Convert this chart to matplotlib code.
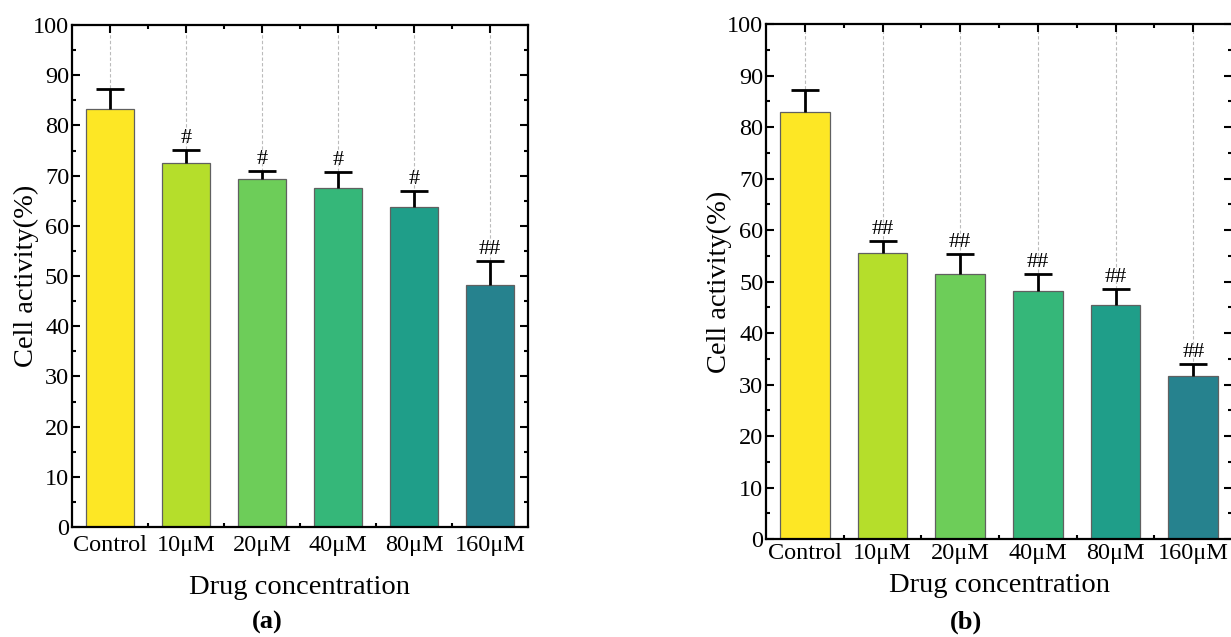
import numpy as np
import matplotlib.pyplot as plt
from matplotlib.ticker import MultipleLocator, FixedLocator

plt.rcParams['font.family'] = ['Liberation Serif', 'DejaVu Serif']

# datos
grupos = ["Control", "10μM", "20μM", "40μM", "80μM", "160μM"]
colores = ["#FDE725", "#B5DE2B", "#6DCD59", "#35B779", "#1F9E89", "#26828E"]

media_a = [83.2, 72.6, 69.4, 67.5, 63.8, 48.3]
error_a = [4.1, 2.5, 1.5, 3.3, 3.2, 4.6]
marca_a = ["", "#", "#", "#", "#", "##"]

media_b = [82.9, 55.5, 51.5, 48.1, 45.4, 31.7]
error_b = [4.2, 2.3, 3.8, 3.3, 3.2, 2.3]
marca_b = ["", "##", "##", "##", "##", "##"]

fig = plt.figure(figsize=(12.31, 6.37), dpi=100)
ax_a = fig.add_axes([0.0585, 0.1727, 0.3704, 0.788])
ax_b = fig.add_axes([0.6223, 0.1538, 0.3786, 0.8085])


def panel(ax, medias, errores, marcas, pad_x, ylab_x):
    x = np.arange(len(grupos))
    ax.set_axisbelow(True)
    ax.bar(x, medias, width=0.64, color=colores, edgecolor="#606060",
           linewidth=0.9, zorder=2)
    eb = ax.errorbar(x, medias, yerr=[np.zeros(len(x)), errores], fmt="none",
                     ecolor="black", elinewidth=2, capsize=10, capthick=2,
                     zorder=3)
    # solo la barra de arriba
    eb[1][0].set_visible(False)
    for xi, m, e, t in zip(x, medias, errores, marcas):
        if t:
            ax.text(xi, m + e + 0.4, t, ha="center", va="bottom", fontsize=16)
    ax.set_xlim(-0.5, len(grupos) - 0.5)
    ax.set_ylim(0, 100)
    ax.xaxis.set_major_locator(FixedLocator(x))
    ax.xaxis.set_minor_locator(FixedLocator(x[:-1] + 0.5))
    ax.set_xticklabels(grupos)
    ax.yaxis.set_major_locator(MultipleLocator(10))
    ax.yaxis.set_minor_locator(MultipleLocator(5))
    ax.tick_params(which="both", direction="in", top=True, right=True,
                   labelsize=17.5, width=1.5)
    ax.tick_params(which="major", length=6)
    ax.tick_params(which="minor", length=3)
    ax.tick_params(axis="x", which="major", pad=pad_x)
    ax.tick_params(axis="y", which="major", pad=2)
    ax.grid(axis="x", which="major", color="#BBBBBB", linestyle=(0, (3, 2)),
            linewidth=0.8)
    for s in ax.spines.values():
        s.set_linewidth(1.6)
    ax.set_xlabel("Drug concentration", fontsize=20.5)
    ax.set_ylabel("Cell activity(%)", fontsize=20.5)
    ax.yaxis.set_label_coords(ylab_x, 0.5)
    ax.yaxis.label.set_va("center")
    ax.xaxis.label.set_va("center")


panel(ax_a, media_a, error_a, marca_a, 6, -0.099)
panel(ax_b, media_b, error_b, marca_b, 3, -0.099)
ax_a.xaxis.set_label_coords(0.5, -0.12)
ax_b.xaxis.set_label_coords(0.5, -0.091)

fig.text(267 / 1231, 1 - 622 / 637, "(a)", ha="center", va="center",
         fontsize=19, fontweight="bold")
fig.text(966 / 1231, 1 - 622 / 637, "(b)", ha="center", va="center",
         fontsize=19, fontweight="bold")

fig.savefig("out.png", dpi=100)
